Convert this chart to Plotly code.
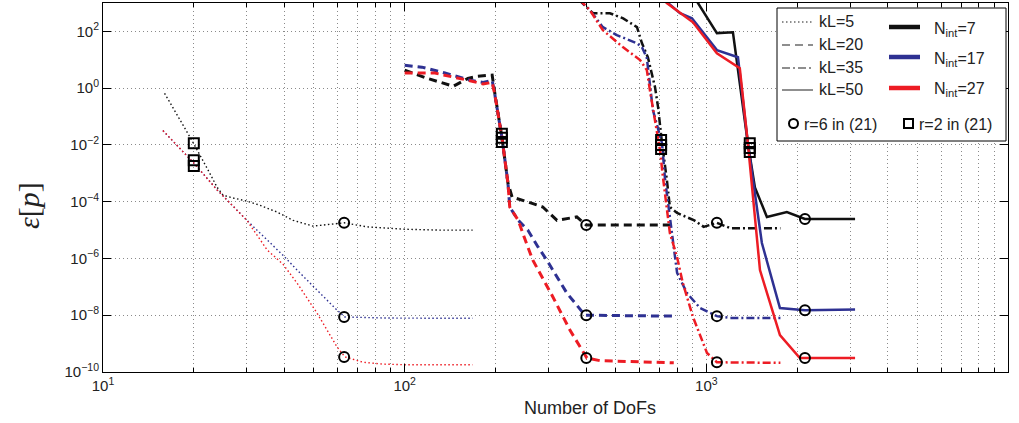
import plotly.graph_objects as go

# ---------------- data ----------------
# kL = 5 (dotted)
x_kl5_black = [16, 20, 22.3, 23.9, 25, 27, 30, 33, 37.8, 42.7, 49.7, 56.5, 63, 75, 100, 130, 168]
y_kl5_black = [0.66, 1.1e-2, 1.3e-3, 3.2e-4, 1.7e-4, 1.35e-4, 1.05e-4, 7.6e-5, 4.3e-5, 2.2e-5, 1.38e-5, 1.6e-5, 1.8e-5, 1.3e-5, 1.07e-5, 1.0e-5, 1.0e-5]
x_kl5_blue = [15.8, 20, 23.9, 30, 35, 39.5, 44, 51.2, 59.7, 63.4, 72.8, 84.7, 100, 130, 168]
y_kl5_blue = [0.032, 2.3e-3, 2.6e-4, 2.2e-5, 4.5e-6, 1.3e-6, 3.9e-7, 7.8e-8, 1.5e-8, 8.7e-9, 8.2e-9, 8.0e-9, 7.9e-9, 7.8e-9, 7.8e-9]
x_kl5_red = [15.8, 20, 23.9, 30, 35, 39.5, 44, 51.2, 59.7, 63.4, 72.8, 84.7, 100, 130, 168]
y_kl5_red = [0.032, 2.3e-3, 2.6e-4, 2.2e-5, 2.0e-6, 6.3e-7, 1.35e-7, 1.2e-8, 7.6e-10, 3.4e-10, 2.2e-10, 1.9e-10, 1.8e-10, 1.8e-10, 1.8e-10]

# kL = 20 (dashed)
x_kl20_black = [100, 119, 145, 162, 174, 195, 199, 210, 220, 227, 256, 287, 320, 372, 400, 780]
y_kl20_black = [4.3, 2.2, 1.17, 2.2, 2.6, 2.9, 0.66, 0.019, 4.5e-4, 1.45e-4, 9.8e-5, 6.5e-5, 2.2e-5, 2.9e-5, 1.5e-5, 1.5e-5]
x_kl20_blue = [100, 114, 136, 165, 182, 195, 199, 210, 220, 223, 238, 256, 277, 296, 345, 396, 780]
y_kl20_blue = [6.4, 5.5, 3.4, 1.9, 1.6, 1.9, 0.6, 0.019, 4.5e-4, 6.5e-5, 2.2e-5, 1.0e-5, 2.5e-6, 8.7e-7, 6.0e-8, 1.0e-8, 9.3e-9]
x_kl20_red = [100, 126, 162, 182, 195, 199, 210, 220, 223, 238, 250, 266, 310, 353, 402, 444, 780]
y_kl20_red = [3.4, 3.4, 1.9, 1.4, 1.6, 0.6, 0.019, 4.5e-4, 6.5e-5, 2.2e-5, 5.0e-6, 8.7e-7, 4.4e-8, 3.0e-9, 3.1e-10, 2.5e-10, 2.1e-10]

# kL = 35 (dash-dot)
x_kl35_black = [378, 421, 479, 530, 589, 612, 640, 676, 692, 713, 740, 757, 800, 912, 980, 1084, 1200, 1760]
y_kl35_black = [1.3e3, 436, 436, 288, 141, 38, 12.3, 1.08, 0.21, 0.0115, 5.8e-4, 6.5e-5, 4.0e-5, 2.2e-5, 1.3e-5, 1.8e-5, 1.17e-5, 1.17e-5]
x_kl35_blue = [380, 411, 454, 505, 589, 612, 635, 650, 665, 713, 730, 757, 775, 800, 863, 953, 1084, 1200, 1760]
y_kl35_blue = [1.3e3, 562, 141, 74, 38, 27.5, 11.5, 1.1, 0.17, 0.0115, 5.8e-4, 2.9e-5, 3.5e-6, 3.1e-7, 6.0e-8, 1.8e-8, 9.3e-9, 8.0e-9, 8.0e-9]
x_kl35_red = [380, 411, 454, 530, 603, 635, 650, 676, 702, 718, 740, 757, 800, 836, 903, 1005, 1084, 1760]
y_kl35_red = [1.3e3, 562, 110, 27.5, 9.8, 4.3, 0.85, 0.074, 6.6e-3, 7.4e-4, 6.5e-5, 7.9e-6, 1.1e-6, 1.35e-7, 8.7e-9, 4.7e-10, 2.2e-10, 2.1e-10]

# kL = 50 (solid)
x_kl50_black = [930, 1084, 1225, 1373, 1449, 1588, 1849, 2123, 3112]
y_kl50_black = [1.15e3, 87, 93, 0.0115, 3.2e-4, 2.9e-5, 4.3e-5, 2.45e-5, 2.45e-5]
x_kl50_blue = [735, 818, 896, 1084, 1273, 1373, 1528, 1754, 2123, 3112]
y_kl50_blue = [1.15e3, 436, 288, 21.9, 12.3, 0.0115, 3.5e-6, 1.8e-8, 1.5e-8, 1.6e-8]
x_kl50_red = [735, 903, 1084, 1291, 1373, 1506, 1754, 2042, 2123, 3112]
y_kl50_red = [1.05e3, 209, 17, 5.0, 0.0115, 3.9e-7, 2.0e-9, 3.1e-10, 3.1e-10, 3.1e-10]

# markers: r=6 in (21) (circles), r=2 in (21) (squares)
r6_x = [63, 63, 63, 400, 400, 400, 1084, 1084, 1084, 2123, 2123, 2123]
r6_y = [1.8e-5, 8.7e-9, 3.4e-10, 1.5e-5, 1.0e-8, 3.1e-10, 1.8e-5, 9.3e-9, 2.2e-10, 2.45e-5, 1.5e-8, 3.1e-10]
r2_x = [20, 20, 20, 210, 210, 210, 708, 708, 708, 1393, 1393, 1393]
r2_y = [1.15e-2, 2.9e-3, 1.8e-3, 0.025, 0.018, 0.0126, 0.0148, 0.010, 7.2e-3, 0.0115, 7.8e-3, 5.6e-3]

kl_labels = ["kL=5", "kL=20", "kL=35", "kL=50"]
nint_labels = ["N<sub>int</sub>=7", "N<sub>int</sub>=17", "N<sub>int</sub>=27"]
marker_labels = ["r=6 in (21)", "r=2 in (21)"]
x_tick_vals = [10, 100, 1000, 10000]
x_tick_text = ["10<sup>1</sup>", "10<sup>2</sup>", "10<sup>3</sup>", "10<sup>4</sup>"]
y_tick_vals = [1e-10, 1e-8, 1e-6, 1e-4, 1e-2, 1, 100]
y_tick_text = ["10<sup>−10</sup>", "10<sup>−8</sup>", "10<sup>−6</sup>", "10<sup>−4</sup>",
               "10<sup>−2</sup>", "10<sup>0</sup>", "10<sup>2</sup>"]

# ---------------- styling ----------------
BLACK, BLUE, RED = "#111111", "#2e3192", "#ed1c24"
colors = [BLACK, BLUE, RED]
styles = {  # kL -> (dash, width)
    "kL=5": ("1.5px,2.5px", 1.4),
    "kL=20": ("8px,5px", 3),
    "kL=35": ("8px,3px,2px,3px", 2.5),
    "kL=50": ("solid", 2.5),
}
series = {
    "kL=5": [(x_kl5_black, y_kl5_black), (x_kl5_blue, y_kl5_blue), (x_kl5_red, y_kl5_red)],
    "kL=20": [(x_kl20_black, y_kl20_black), (x_kl20_blue, y_kl20_blue), (x_kl20_red, y_kl20_red)],
    "kL=35": [(x_kl35_black, y_kl35_black), (x_kl35_blue, y_kl35_blue), (x_kl35_red, y_kl35_red)],
    "kL=50": [(x_kl50_black, y_kl50_black), (x_kl50_blue, y_kl50_blue), (x_kl50_red, y_kl50_red)],
}

fig = go.Figure()
for kl in kl_labels:
    dash, w = styles[kl]
    for (xs, ys), c in zip(series[kl], colors):
        fig.add_trace(go.Scatter(x=xs, y=ys, mode="lines",
                                 line=dict(color=c, width=w, dash=dash),
                                 showlegend=False, hoverinfo="skip"))

fig.add_trace(go.Scatter(x=r6_x, y=r6_y, mode="markers", showlegend=False,
                         marker=dict(symbol="circle-open", size=10, color="black",
                                     line=dict(width=2, color="black"))))
fig.add_trace(go.Scatter(x=r2_x, y=r2_y, mode="markers", showlegend=False,
                         marker=dict(symbol="square-open", size=10, color="black",
                                     line=dict(width=2, color="black"))))

# ---------------- layout ----------------
W, H = 1019, 423
L, R, T, B = 103, 1008, 3, 372
FONT = "Liberation Sans, Arial, Helvetica, sans-serif"

minor_x = [k * 10 ** d for d in range(1, 4) for k in range(2, 10)]
grid_style = dict(showgrid=True, gridcolor="#8a8a8a", gridwidth=1, griddash="1px,3px")

fig.update_layout(
    width=W, height=H,
    margin=dict(l=L, r=W - R, t=T, b=H - B, pad=0),
    paper_bgcolor="white", plot_bgcolor="white",
    font=dict(family=FONT, size=15, color="#222"),
    showlegend=False,
    xaxis=dict(type="log", range=[1, 4], tickvals=x_tick_vals, ticktext=x_tick_text,
               ticks="inside", ticklen=8, tickcolor="black", showline=True, linecolor="black",
               linewidth=1, mirror="allticks", zeroline=False,
               tickfont=dict(size=15, color="#222"),
               minor=dict(tickvals=minor_x, ticks="inside", ticklen=4, tickcolor="black", **grid_style),
               **grid_style),
    yaxis=dict(type="log", range=[-10, 3], tickvals=y_tick_vals, ticktext=y_tick_text,
               ticks="inside", ticklen=8, tickcolor="black", showline=True, linecolor="black",
               linewidth=1, mirror="allticks", zeroline=False,
               tickfont=dict(size=15, color="#222"), **grid_style),
)


def px(x, y):
    return (x - L) / (R - L), (B - y) / (B - T)


shapes = []
annotations = []
# legend box
x0, y0 = px(777, 141)
x1, y1 = px(1006, 8)
shapes.append(dict(type="rect", xref="paper", yref="paper", x0=x0, y0=y0, x1=x1, y1=y1,
                   line=dict(color="black", width=1), fillcolor="white", layer="above"))
kl_rows = [22, 45, 68, 90]
for lab, yy in zip(kl_labels, kl_rows):
    dash, _ = styles[lab]
    ax0, ay = px(782, yy)
    ax1, _ = px(813, yy)
    shapes.append(dict(type="line", xref="paper", yref="paper", x0=ax0, x1=ax1, y0=ay, y1=ay,
                       line=dict(color="#6a6a6a", width=1.5, dash=dash), layer="above"))
    tx, ty = px(817, yy)
    annotations.append(dict(text=lab, x=tx, y=ty, xref="paper", yref="paper", showarrow=False,
                            xanchor="left", yanchor="middle", font=dict(size=16, color="#222")))
n_rows = [27, 57, 88]
for lab, yy, c in zip(nint_labels, n_rows, colors):
    ax0, ay = px(889, yy)
    ax1, _ = px(920, yy)
    shapes.append(dict(type="line", xref="paper", yref="paper", x0=ax0, x1=ax1, y0=ay, y1=ay,
                       line=dict(color=c, width=4.5), layer="above"))
    tx, ty = px(932, yy + 2)
    annotations.append(dict(text=lab, x=tx, y=ty, xref="paper", yref="paper", showarrow=False,
                            xanchor="left", yanchor="middle", font=dict(size=16, color="#222")))
# marker legend
cx0, cy0 = px(789, 128)
cx1, cy1 = px(798, 119)
shapes.append(dict(type="circle", xref="paper", yref="paper", x0=cx0, y0=cy0, x1=cx1, y1=cy1,
                   line=dict(color="black", width=2), layer="above"))
sx0, sy0 = px(904, 128)
sx1, sy1 = px(913, 119)
shapes.append(dict(type="rect", xref="paper", yref="paper", x0=sx0, y0=sy0, x1=sx1, y1=sy1,
                   line=dict(color="black", width=2), layer="above"))
for lab, xx in zip(marker_labels, [802, 917]):
    tx, ty = px(xx, 124)
    annotations.append(dict(text=lab, x=tx, y=ty, xref="paper", yref="paper", showarrow=False,
                            xanchor="left", yanchor="middle", font=dict(size=16, color="#222")))

# axis titles
tx, ty = px(590, 408)
annotations.append(dict(text="Number of DoFs", x=tx, y=ty, xref="paper", yref="paper",
                        showarrow=False, xanchor="center", yanchor="middle",
                        font=dict(size=18, color="#222")))
tx, ty = px(28, 206)
annotations.append(dict(text="<i>ε</i>[<i>p</i>]", x=tx, y=ty, xref="paper", yref="paper",
                        showarrow=False, xanchor="center", yanchor="middle", textangle=-90,
                        font=dict(size=30, color="#222", family="Liberation Serif, DejaVu Serif, serif")))

fig.update_layout(shapes=shapes, annotations=annotations)
fig.write_html("out.html")
